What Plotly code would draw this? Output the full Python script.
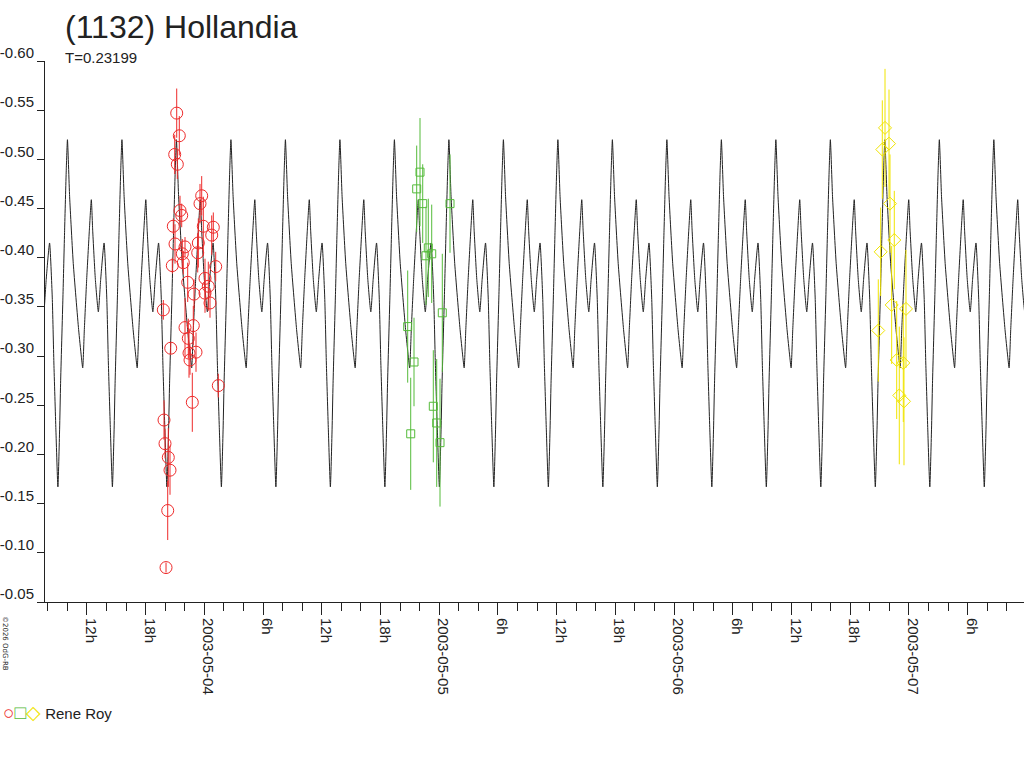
import pandas as pd
import plotly.graph_objects as go

# -----------------------------------------------------------
# Lightcurve data: (1132) Hollandia, observer Rene Roy
# times are decimal days of May 2003 (UT), values are relative mag
# -----------------------------------------------------------
PERIOD = 0.23199          # days
EPOCH = 7.3206            # a deep minimum of the model, May 2003 (day)

# one cycle of the model curve (phase, mag)
model_phase = [0.000, 0.031, 0.049, 0.092, 0.123, 0.153, 0.175, 0.215, 0.282,
               0.380, 0.429, 0.455, 0.485, 0.528, 0.577, 0.613, 0.638, 0.687,
               0.742, 0.785, 0.847, 0.896, 0.926, 0.963]
model_mag = [-0.167, -0.225, -0.272, -0.360, -0.428, -0.489, -0.520, -0.462, -0.394,
             -0.327, -0.300, -0.288, -0.327, -0.378, -0.428, -0.459, -0.428, -0.378,
             -0.345, -0.378, -0.415, -0.360, -0.293, -0.225]

# session 1 (red circles)
red_day = [3.8825, 3.8936, 3.8740, 3.8851, 3.9889, 3.9817, 3.8966, 3.9038, 3.8680,
           3.9957, 4.0383, 4.0315, 3.8753, 3.9745, 3.9178, 3.9063, 3.9719, 3.9106,
           3.8638, 4.0485, 4.0030, 3.9293, 4.0170, 3.9562, 4.0030, 4.0243, 3.8255,
           3.9178, 3.9532, 3.9319, 3.8570, 3.9349, 3.9647, 3.9391, 4.0596, 3.9489,
           3.8284, 3.8327, 3.8467, 3.8540, 3.8442, 3.8370]
red_mag = [-0.547, -0.524, -0.505, -0.495, -0.463, -0.455, -0.448, -0.443, -0.432,
           -0.432, -0.431, -0.423, -0.414, -0.415, -0.411, -0.404, -0.405, -0.395,
           -0.392, -0.391, -0.379, -0.375, -0.371, -0.363, -0.364, -0.354, -0.347,
           -0.329, -0.331, -0.318, -0.308, -0.303, -0.304, -0.296, -0.270, -0.253,
           -0.235, -0.211, -0.197, -0.184, -0.143, -0.085]
red_err = [0.025, 0.020, 0.020, 0.015, 0.020, 0.020, 0.015, 0.012, 0.008,
           0.030, 0.015, 0.020, 0.020, 0.025, 0.010, 0.015, 0.020, 0.012,
           0.008, 0.015, 0.020, 0.020, 0.025, 0.015, 0.020, 0.015, 0.010,
           0.030, 0.020, 0.020, 0.006, 0.025, 0.020, 0.015, 0.012, 0.030,
           0.020, 0.015, 0.030, 0.025, 0.030, 0.005]

# session 2 (green squares)
green_day = [4.9183, 4.9042, 4.9298, 5.0460, 4.9536, 4.9438, 4.9681, 5.0132, 4.8659,
             4.8927, 4.9749, 4.8787, 4.9894, 5.0034]
green_mag = [-0.487, -0.470, -0.455, -0.455, -0.410, -0.402, -0.404, -0.344, -0.330,
             -0.294, -0.249, -0.221, -0.232, -0.212]
green_err = [0.055, 0.044, 0.040, 0.050, 0.050, 0.050, 0.050, 0.060, 0.057,
             0.045, 0.057, 0.057, 0.065, 0.065]

# session 3 (yellow diamonds)
yellow_day = [6.8979, 6.8864, 6.9149, 6.9191, 6.9374, 6.8795, 6.9263, 6.9872, 6.8693,
              6.9476, 6.9757, 6.9587, 6.9787]
yellow_mag = [-0.532, -0.510, -0.516, -0.455, -0.418, -0.406, -0.352, -0.348, -0.326,
              -0.296, -0.293, -0.260, -0.254]
yellow_err = [0.060, 0.050, 0.055, 0.050, 0.050, 0.045, 0.060, 0.060, 0.052,
              0.060, 0.060, 0.070, 0.065]

# x axis labels
tick_times = ["2003-05-03 12:00", "2003-05-03 18:00", "2003-05-04 00:00", "2003-05-04 06:00",
              "2003-05-04 12:00", "2003-05-04 18:00", "2003-05-05 00:00", "2003-05-05 06:00",
              "2003-05-05 12:00", "2003-05-05 18:00", "2003-05-06 00:00", "2003-05-06 06:00",
              "2003-05-06 12:00", "2003-05-06 18:00", "2003-05-07 00:00", "2003-05-07 06:00"]
tick_text = ["12h", "18h", "2003-05-04", "6h", "12h", "18h", "2003-05-05", "6h",
             "12h", "18h", "2003-05-06", "6h", "12h", "18h", "2003-05-07", "6h"]
y_ticks = [-0.60, -0.55, -0.50, -0.45, -0.40, -0.35, -0.30, -0.25, -0.20, -0.15, -0.10, -0.05]

X_START = 3.3218
X_END = 7.4896


def may_day(d):
    """decimal day of May 2003 -> timestamp"""
    return pd.Timestamp("2003-05-01") + pd.to_timedelta(d - 1, unit="D")


# repeat the model cycle over the whole time span
model_t, model_y = [], []
for n in range(-19, 2):
    for ph, mg in zip(model_phase, model_mag):
        model_t.append(may_day(EPOCH + (n + ph) * PERIOD))
        model_y.append(mg)

FONT = "Liberation Sans, Arial, sans-serif"
INK = "#222222"
RED, GREEN, YELLOW = "#ee2a2a", "#55bb3a", "#f0e400"
W, H = 1024, 768

fig = go.Figure()

fig.add_trace(go.Scatter(
    x=model_t, y=model_y, mode="lines",
    line=dict(color=INK, width=1, shape="spline", smoothing=0.5),
    hoverinfo="skip", showlegend=False
))


def add_session(days, mags, errs, color, symbol, size):
    fig.add_trace(go.Scatter(
        x=[may_day(d) for d in days], y=mags, mode="markers",
        marker=dict(symbol=symbol, size=size, color=color, line=dict(color=color, width=1)),
        error_y=dict(type="data", array=errs, visible=True, color=color,
                     thickness=1, width=0),
        name="Rene Roy", showlegend=False
    ))


add_session(red_day, red_mag, red_err, RED, "circle-open", 12)
add_session(green_day, green_mag, green_err, GREEN, "square-open", 8)
add_session(yellow_day, yellow_mag, yellow_err, YELLOW, "diamond-open", 10)

fig.update_layout(
    width=W, height=H,
    margin=dict(l=45, r=0, t=61, b=166),
    paper_bgcolor="white", plot_bgcolor="white",
    font=dict(family=FONT, color=INK, size=15),
    showlegend=False,
    title=dict(text="(1132) Hollandia", x=65 / W, xanchor="left",
               y=1 - 16 / H, yanchor="top", xref="container", yref="container",
               pad=dict(l=0, r=0, t=0, b=0),
               font=dict(size=32, color=INK, family=FONT)),
)

fig.update_xaxes(
    range=[may_day(X_START), may_day(X_END)],
    tickmode="array", tickvals=tick_times, ticktext=tick_text,
    tickangle=90, ticks="outside", ticklen=12, tickcolor=INK,
    tickfont=dict(size=15, color=INK), ticklabelshift=4,
    minor=dict(ticks="outside", dtick=2 * 3600 * 1000, tick0="2003-05-03",
               ticklen=8, tickcolor=INK, showgrid=False),
    showline=True, linecolor=INK, linewidth=1,
    showgrid=False, zeroline=False, automargin=False,
)

fig.update_yaxes(
    range=[-0.05, -0.60],
    tickmode="array", tickvals=y_ticks, ticktext=["%.2f" % v for v in y_ticks],
    ticks="outside", ticklen=7, tickcolor=INK, ticklabelshift=8,
    tickfont=dict(size=15, color=INK),
    showline=True, linecolor=INK, linewidth=1,
    showgrid=False, zeroline=False, automargin=False,
)

# period note under the title
fig.add_annotation(text="T=%.5f" % PERIOD, xref="paper", yref="paper",
                   x=18 / 979, y=1 + 3.5 / 541, xanchor="left", yanchor="middle",
                   showarrow=False, font=dict(size=15, color=INK))

# legend line
fig.add_annotation(
    text="<span style='color:%s;font-size:19px'>○</span>"
         "<span style='color:%s;font-size:19px'>□</span>"
         "<span style='color:%s;font-size:19px'>◇</span> Rene Roy" % (RED, GREEN, YELLOW),
    xref="paper", yref="paper", x=-44 / 979, y=-(712 - 602) / 541,
    xanchor="left", yanchor="middle", showarrow=False,
    font=dict(size=15, color=INK, family=FONT))

# copyright note
fig.add_annotation(text="©2026 OdG-RB", xref="paper", yref="paper",
                   x=-40 / 979, y=-(643 - 602) / 541, textangle=90,
                   xanchor="center", yanchor="middle", showarrow=False,
                   font=dict(size=7, color=INK, family="DejaVu Sans"))

# drop the browser's default page margin so the figure sits at the window corner
fig.write_html("out.html", config={"displayModeBar": False},
               post_script="document.body.style.margin='0';")
